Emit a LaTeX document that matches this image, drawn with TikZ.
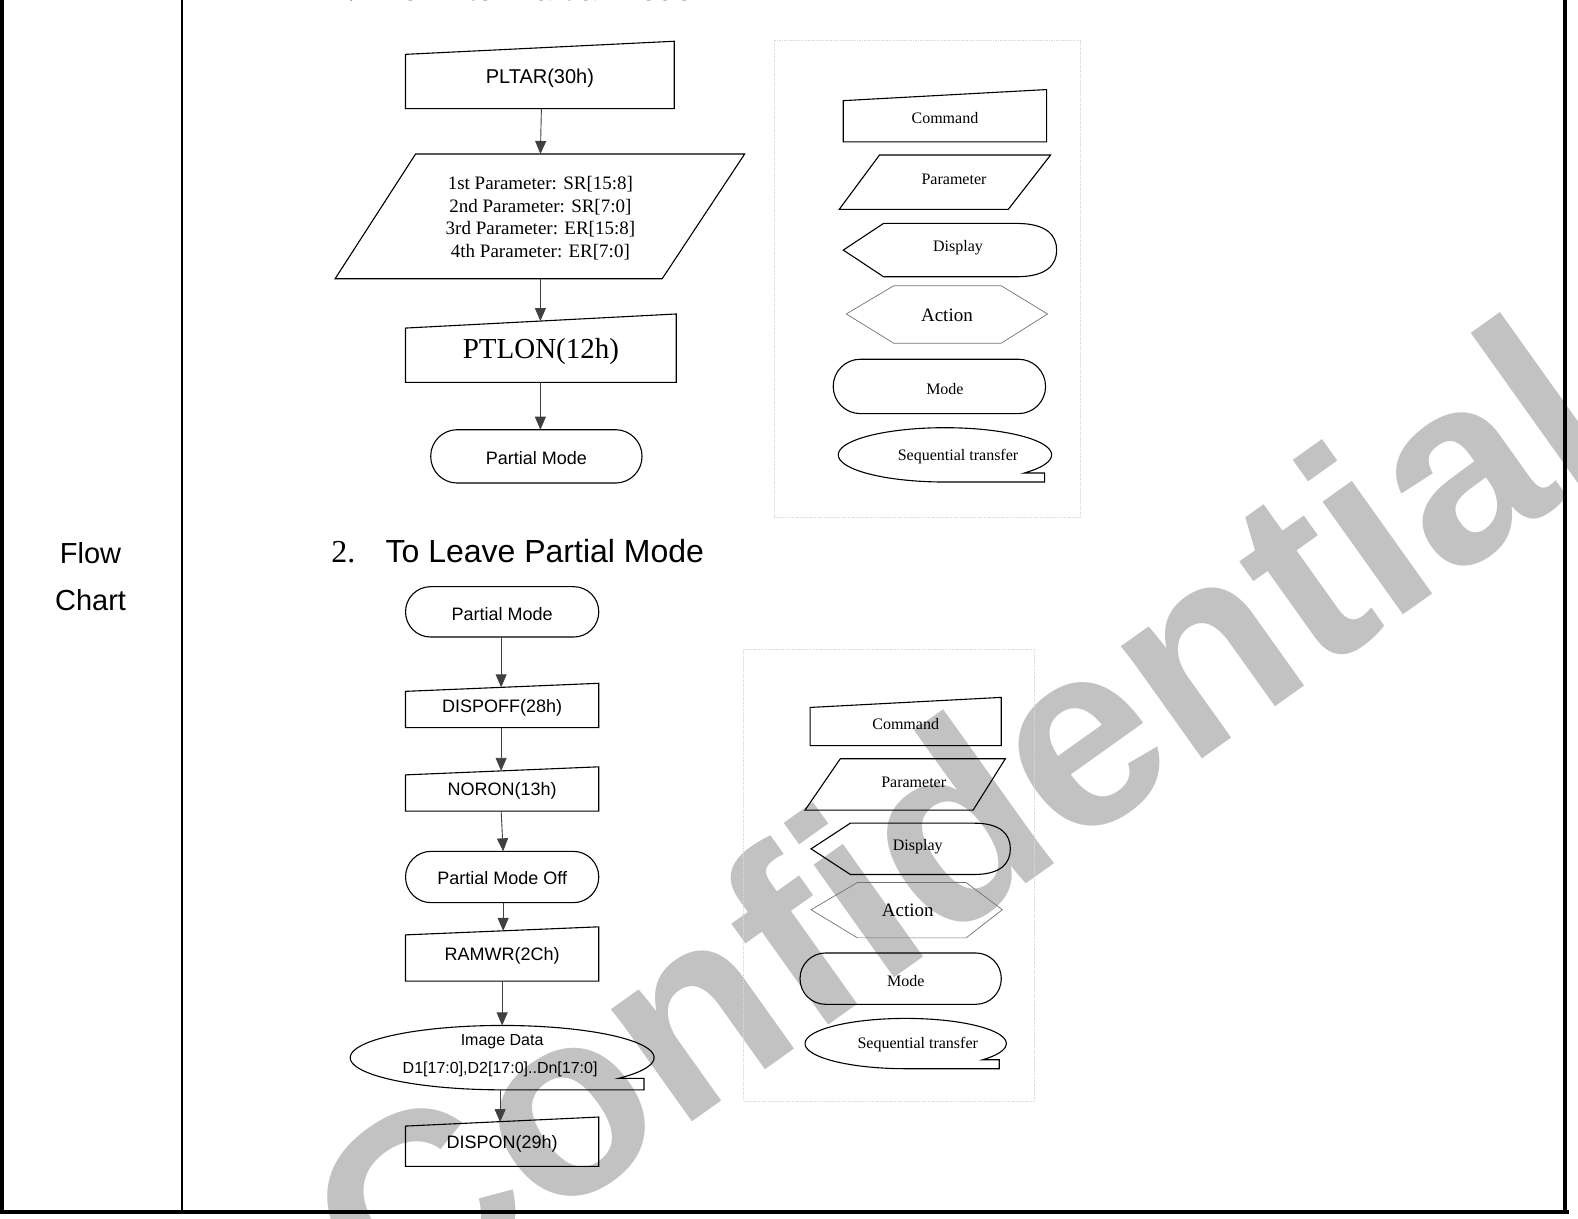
\documentclass[tikz,border=0pt]{standalone}
\usepackage{fontspec}
\setmainfont{Liberation Serif}
\newfontfamily\arialfont{Liberation Sans}
\usetikzlibrary{arrows.meta}
\definecolor{wmgray}{RGB}{194,194,194}
\newcommand\FCcmd[7]{% name x1 x2 ytl ytr yb label
  \draw[shp] (#2,#4) -- (#3,#5) -- (#3,#6) -- (#2,#6) -- cycle;
  \node[lbl] (#1) at ({(#2+#3)/2},{(#4+#5+2*#6)/4}) {#7};}
\newcommand\FCdisp[7]{% name xl xa xb xr yt yb
  \draw[shp] (#2,{(#6+#7)/2}) -- (#3,#6) -- (#4,#6)
    .. controls ({#5-9},#6) and (#5,{(#6+#7)/2-14}) .. (#5,{(#6+#7)/2})
    .. controls (#5,{(#6+#7)/2+14}) and ({#5-9},#7) .. (#4,#7)
    -- (#3,#7) -- cycle;}
\newcommand\FCseq[7]{% cx cy a b angle tailx
  \draw[shp] plot[domain=#5:270, samples=90] ({#1+#3*cos(\x)},{#2-#4*sin(\x)})
    -- (#6,{#2+#4}) -- (#6,{#2-#4*sin(#5)}) -- cycle;}
\begin{document}
\begin{tikzpicture}[x=1.0063pt,y=-1.0063pt,
  shp/.style={draw=black,line width=1.1},
  hexa/.style={draw=black!55,line width=0.7},
  conn/.style={draw=black!75,line width=0.9,-{Triangle[length=13,width=11]}},
  lbl/.style={inner sep=0pt,align=center},
  sans/.style={font=\arialfont\fontsize{18}{21}\selectfont},
  serifl/.style={font=\fontsize{16}{19}\selectfont},
  legbox/.style={draw=black!15,line width=0.7,densely dotted},
  tbl/.style={draw=black,line cap=rect}]
\useasboundingbox (0,0) rectangle (1568.1,1210.4);
\fill[white] (0,0) rectangle (1568.1,1210.4);
% watermark
\node[rotate=35.5,anchor=base west,inner sep=0pt,text=wmgray,
  font=\arialfont\bfseries\fontsize{262}{262}\selectfont] (wm) at (391,1327) {Confidential};
% table
\draw[tbl,line width=4] (2,0) -- (2,1204);
\draw[tbl,line width=2] (181,0) -- (181,1204);
\draw[tbl,line width=4] (1555,0) -- (1555,1204);
\draw[tbl,line width=4] (0,1204) -- (1557,1204);
\node[lbl,font=\arialfont\fontsize{29}{47}\selectfont] (fc) at (90,573) {Flow\\Chart};
% headings
\node[anchor=base west,inner sep=0pt,font=\fontsize{32}{32}\selectfont] (h1n) at (329,0.6) {1.};
\node[anchor=base west,inner sep=0pt,font=\arialfont\fontsize{32}{32}\selectfont] (h1) at (383,0.6) {To Enter Partial Mode};
\node[anchor=base west,inner sep=0pt,font=\fontsize{32}{32}\selectfont] (h2n) at (329,559) {2.};
\node[anchor=base west,inner sep=0pt,font=\arialfont\fontsize{32}{32}\selectfont] (h2) at (383,559) {To Leave Partial Mode};
% ---------- flow chart 1 ----------
\FCcmd{pltar}{403}{670}{54}{41}{108}{\arialfont\fontsize{20}{24}\selectfont PLTAR(30h)}
\coordinate (pltar-s) at (538,108);
\draw[shp] (413,153) -- (740,153) -- (658,277) -- (333,277) -- cycle;
\node[lbl,font=\fontsize{19}{22.6}\selectfont] (param) at (537,217)
  {1st Parameter: SR[15:8]\\2nd Parameter: SR[7:0]\\3rd Parameter: ER[15:8]\\4th Parameter: ER[7:0]};
\coordinate (param-n) at (537,153);
\coordinate (param-s) at (537,277);
\FCcmd{ptlon}{403}{672}{326}{312}{380}{\fontsize{29}{32}\selectfont PTLON(12h)}
\coordinate (ptlon-n) at (537,319);
\coordinate (ptlon-s) at (537,380);
\draw[shp,rounded corners=26.5] (428,427) rectangle (638,480);
\node[lbl,sans] (pm1) at (533,455) {Partial Mode};
\coordinate (pm1-n) at (537,427);
\draw[conn] (pltar-s) -- (param-n);
\draw[conn] (param-s) -- (ptlon-n);
\draw[conn] (ptlon-s) -- (pm1-n);
% legend 1
\draw[legbox] (769,40) rectangle (1074,514);
\FCcmd{lcmd1}{838}{1040}{100}{89}{141}{\fontsize{16}{19}\selectfont Command}
\draw[shp] (874,154) -- (1044,154) -- (1002,208) -- (834,208) -- cycle;
\node[lbl,serifl] (lpar1) at (948,178) {Parameter};
\FCdisp{ldisp1}{838}{878}{1010}{1050}{222}{275}
\node[lbl,serifl] (ldisp1) at (952,246) {Display};
\draw[hexa] (841,312) -- (888,284) -- (995,284) -- (1041,312) -- (995,341) -- (888,341) -- cycle;
\node[lbl,font=\fontsize{19}{22}\selectfont] (lact1) at (941,313) {Action};
\draw[shp,rounded corners=27] (828,357) rectangle (1039,411);
\node[lbl,serifl] (lmode1) at (939,387) {Mode};
\FCseq{939}{452}{106}{27}{-42}{1038}{}
\node[lbl,serifl] (lseq1) at (952,454) {Sequential transfer};
% ---------- flow chart 2 ----------
\draw[shp,rounded corners=25] (403,583) rectangle (595,633);
\node[lbl,sans] (pm2) at (499,610) {Partial Mode};
\coordinate (pm2-s) at (498,633);
\FCcmd{dispoff}{403}{595}{687}{679}{723}{\arialfont\fontsize{18}{21}\selectfont DISPOFF(28h)}
\coordinate (dispoff-n) at (498,683);
\coordinate (dispoff-s) at (498,723);
\FCcmd{noron}{403}{595}{770}{762}{806}{\arialfont\fontsize{18}{21}\selectfont NORON(13h)}
\coordinate (noron-n) at (498,766);
\coordinate (noron-s) at (498,806);
\draw[shp,rounded corners=25.5] (403,846) rectangle (595,897);
\node[lbl,sans] (pmoff) at (499,873) {Partial Mode Off};
\coordinate (pmoff-n) at (500,846);
\coordinate (pmoff-s) at (500,897);
\FCcmd{ramwr}{403}{595}{929}{921}{975}{\arialfont\fontsize{18}{21}\selectfont RAMWR(2Ch)}
\coordinate (ramwr-n) at (500,925);
\coordinate (ramwr-s) at (499,975);
\FCseq{499}{1051}{151}{32}{-40}{640}{}
\node[lbl,font=\arialfont\fontsize{16}{19}\selectfont] (img1) at (499,1035) {Image Data};
\node[lbl,font=\arialfont\fontsize{16}{19}\selectfont] (img2) at (497,1063) {D1[17:0],D2[17:0]..Dn[17:0]};
\coordinate (img-n) at (499,1019);
\coordinate (img-s) at (497,1083);
\FCcmd{dispon}{403}{595}{1119}{1110}{1159}{\arialfont\fontsize{18}{21}\selectfont DISPON(29h)}
\coordinate (dispon-n) at (497,1115);
\draw[conn] (pm2-s) -- (dispoff-n);
\draw[conn] (dispoff-s) -- (noron-n);
\draw[conn] (noron-s) -- (pmoff-n);
\draw[conn] (pmoff-s) -- (ramwr-n);
\draw[conn] (ramwr-s) -- (img-n);
\draw[conn] (img-s) -- (dispon-n);
% legend 2
\draw[legbox] (739,645) rectangle (1028,1094);
\FCcmd{lcmd2}{805}{995}{703}{693}{741}{\fontsize{16}{19}\selectfont Command}
\draw[shp] (835,754) -- (999,754) -- (967,805) -- (800,805) -- cycle;
\node[lbl,serifl] (lpar2) at (908,777) {Parameter};
\FCdisp{ldisp2}{806}{845}{968}{1004}{818}{869}
\node[lbl,serifl] (ldisp2) at (912,841) {Display};
\draw[hexa] (806,904) -- (852,877) -- (960,877) -- (996,904) -- (960,932) -- (852,932) -- cycle;
\node[lbl,font=\fontsize{19}{22}\selectfont] (lact2) at (902,905) {Action};
\draw[shp,rounded corners=25.5] (795,947) rectangle (995,998);
\node[lbl,serifl] (lmode2) at (900,975) {Mode};
\FCseq{900}{1037}{100}{25}{-40}{993}{}
\node[lbl,serifl] (lseq2) at (912,1038) {Sequential transfer};
\end{tikzpicture}
\end{document}
